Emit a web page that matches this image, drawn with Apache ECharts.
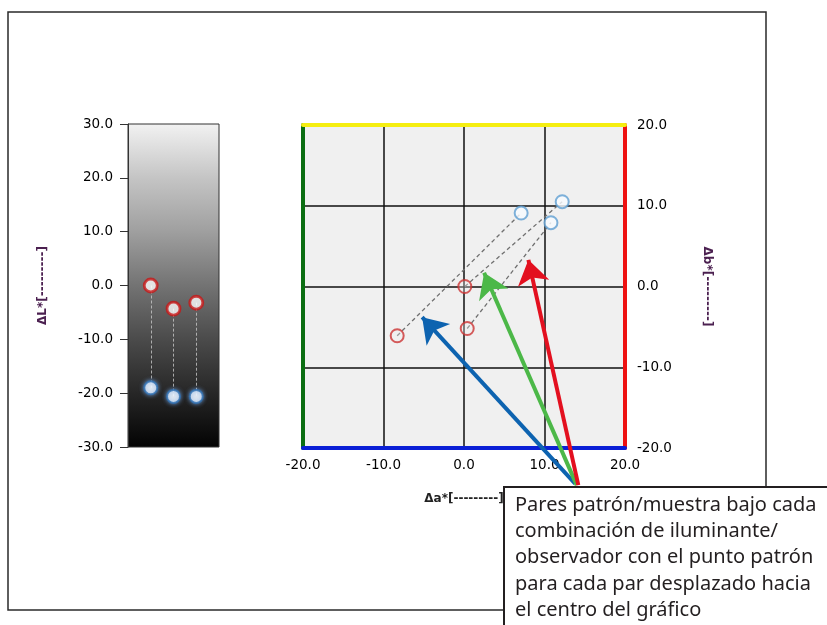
<!DOCTYPE html>
<html>
<head>
<meta charset="utf-8">
<script src="https://cdn.jsdelivr.net/npm/echarts@6/dist/echarts.min.js"></script>
<style>
html,body{margin:0;padding:0;background:#fff;}
#chart{width:827px;height:625px;}
</style>
</head>
<body>
<div id="chart"></div>
<script>
// ---- Data ----
// Left panel: ΔL* for three illuminant/observer pairs
const pairIndex = [1, 2, 3];
const dLStandard = [0.0, -4.3, -3.2];
const dLSample = [-19.0, -20.6, -20.6];
// Right panel: Δa*, Δb*
const daStandard = [-8.3, 0.1, 0.4];
const dbStandard = [-6.1, 0.0, -5.2];
const daSample = [7.1, 12.2, 10.8];
const dbSample = [9.1, 10.5, 7.9];
// Axis ranges / ticks
const lRange = [-30, 30];
const abRange = [-20, 20];
const tickStep = 10;
// Annotation arrows (Δa*, Δb* units): tips and common base
const arrowTipsA = [-5.2, 2.5, 8.0];
const arrowTipsB = [-3.8, 1.7, 3.3];
const arrowBaseA = [13.8, 14.0, 14.2];
const arrowBaseB = [-24.4, -24.6, -24.6];
const arrowColors = ['#0d63b0', '#4cb848', '#e3101f'];
const noteLines = [
  'Pares patrón/muestra bajo cada',
  'combinación de iluminante/',
  'observador con el punto patrón',
  'para cada par desplazado hacia',
  'el centro del gráfico'
];
const nameL = 'ΔL*[---------]';
const nameA = 'Δa*[---------]';
const nameB = 'Δb*[---------]';

const chart = echarts.init(document.getElementById('chart'));
const lblFont = { fontFamily: 'DejaVu Sans', fontSize: 13.5, color: '#000' };
const nameStyle = { fontFamily: 'DejaVu Sans', fontSize: 12, color: '#4b2050', fontWeight: 'bold' };
const fmt = v => v.toFixed(1);

const option = {
  animation: false,
  backgroundColor: '#fff',
  grid: [
    {
      left: 128, top: 124, width: 91, height: 323,
      show: true, borderColor: '#333', borderWidth: 1,
      backgroundColor: {
        type: 'linear', x: 0, y: 0, x2: 0, y2: 1,
        colorStops: [
          { offset: 0, color: '#f2f2f2' },
          { offset: 0.17, color: '#c4c4c4' },
          { offset: 0.33, color: '#a0a0a0' },
          { offset: 0.5, color: '#737373' },
          { offset: 0.67, color: '#4a4a4a' },
          { offset: 0.83, color: '#272727' },
          { offset: 1, color: '#030303' }
        ]
      }
    },
    {
      left: 303, top: 125, width: 322, height: 323,
      show: true, borderWidth: 0, backgroundColor: '#f0f0f0'
    }
  ],
  xAxis: [
    { gridIndex: 0, type: 'value', min: 0, max: 4, show: false },
    {
      gridIndex: 1, type: 'value', min: abRange[0], max: abRange[1], interval: tickStep,
      position: 'bottom',
      axisLine: { onZero: false, lineStyle: { color: '#0a1fd6', width: 4 } },
      axisTick: { show: false },
      axisLabel: Object.assign({ margin: 10, formatter: fmt }, lblFont),
      splitLine: { show: true, lineStyle: { color: '#111', width: 1.5 } },
      name: nameA, nameLocation: 'middle', nameGap: 45,
      nameTextStyle: Object.assign({}, nameStyle, { color: '#222' })
    },
    {
      gridIndex: 1, type: 'value', min: abRange[0], max: abRange[1], interval: tickStep,
      position: 'top',
      axisLine: { onZero: false, lineStyle: { color: '#f5ee10', width: 4 } },
      axisTick: { show: false }, axisLabel: { show: false }, splitLine: { show: false }
    }
  ],
  yAxis: [
    {
      gridIndex: 0, type: 'value', min: lRange[0], max: lRange[1], interval: tickStep,
      position: 'left',
      axisLine: { show: true, onZero: false, lineStyle: { color: '#333', width: 1 } },
      axisTick: { show: true, length: 8, lineStyle: { color: '#333' } },
      axisLabel: Object.assign({ margin: 15, formatter: fmt }, lblFont),
      splitLine: { show: false },
      name: nameL, nameLocation: 'middle', nameGap: 79, nameRotate: 90,
      nameTextStyle: nameStyle
    },
    {
      gridIndex: 1, type: 'value', min: abRange[0], max: abRange[1], interval: tickStep,
      position: 'right',
      axisLine: { onZero: false, lineStyle: { color: '#ee1111', width: 4 } },
      axisTick: { show: false },
      axisLabel: Object.assign({ margin: 12, formatter: fmt }, lblFont),
      splitLine: { show: true, lineStyle: { color: '#111', width: 1.5 } },
      name: nameB, nameLocation: 'middle', nameGap: 76, nameRotate: -90,
      nameTextStyle: nameStyle
    },
    {
      gridIndex: 1, type: 'value', min: abRange[0], max: abRange[1], interval: tickStep,
      position: 'left',
      axisLine: { onZero: false, lineStyle: { color: '#0b6e12', width: 4 } },
      axisTick: { show: false }, axisLabel: { show: false }, splitLine: { show: false }
    }
  ],
  series: [
    {
      type: 'lines', coordinateSystem: 'cartesian2d', xAxisIndex: 0, yAxisIndex: 0,
      silent: true,
      lineStyle: { color: '#c8c8c8', width: 1, type: [3, 2], opacity: 0.8 },
      data: pairIndex.map((x, i) => ({ coords: [[x, dLStandard[i]], [x, dLSample[i]]] }))
    },
    {
      type: 'scatter', xAxisIndex: 0, yAxisIndex: 0, symbol: 'circle', symbolSize: 13,
      itemStyle: { color: '#ffffff', borderColor: '#c81818', borderWidth: 2.8 },
      data: pairIndex.map((x, i) => [x, dLStandard[i]])
    },
    {
      type: 'scatter', xAxisIndex: 0, yAxisIndex: 0, symbol: 'circle', symbolSize: 13,
      itemStyle: { color: '#ffffff', borderColor: '#2e6fb2', borderWidth: 2,
        shadowBlur: 4, shadowColor: 'rgba(120,180,255,0.8)' },
      data: pairIndex.map((x, i) => [x, dLSample[i]])
    },
    {
      type: 'lines', coordinateSystem: 'cartesian2d', xAxisIndex: 1, yAxisIndex: 1,
      silent: true,
      lineStyle: { color: '#707070', width: 1.3, type: [4, 3], opacity: 1 },
      data: daStandard.map((a, i) => ({ coords: [[a, dbStandard[i]], [daSample[i], dbSample[i]]] }))
    },
    {
      type: 'scatter', xAxisIndex: 1, yAxisIndex: 1, symbol: 'circle', symbolSize: 13,
      itemStyle: { color: 'rgba(240,240,240,0.4)', borderColor: '#cc3333', borderWidth: 2 },
      data: daStandard.map((a, i) => [a, dbStandard[i]])
    },
    {
      type: 'scatter', xAxisIndex: 1, yAxisIndex: 1, symbol: 'circle', symbolSize: 13,
      itemStyle: { color: '#f8fbff', borderColor: '#5f9fd2', borderWidth: 2 },
      data: daSample.map((a, i) => [a, dbSample[i]])
    },
    {
      type: 'lines', coordinateSystem: 'cartesian2d', xAxisIndex: 1, yAxisIndex: 1,
      clip: false, silent: true, z: 5,
      symbol: ['none', 'arrow'], symbolSize: [18, 24],
      lineStyle: { width: 4, opacity: 1 },
      data: arrowTipsA.map((a, i) => ({
        coords: [[arrowBaseA[i], arrowBaseB[i]], [a, arrowTipsB[i]]],
        lineStyle: { color: arrowColors[i], width: 4, opacity: 1 }
      }))
    }
  ],
  graphic: [
    {
      type: 'rect', z: 50, silent: true,
      shape: { x: 8, y: 12, width: 758, height: 598 },
      style: { fill: null, stroke: '#2a2a2a', lineWidth: 1.5 }
    },
    {
      type: 'rect', z: 60, silent: true,
      shape: { x: 504, y: 487, width: 340, height: 160 },
      style: { fill: '#ffffff', stroke: '#231f20', lineWidth: 2 }
    },
    {
      type: 'text', z: 61, silent: true, x: 515, y: 492,
      style: {
        text: noteLines.join('\n'),
        font: '20px "Noto Sans"', fill: '#231f20', lineHeight: 26.3
      }
    }
  ]
};
chart.setOption(option);
</script>
</body>
</html>
